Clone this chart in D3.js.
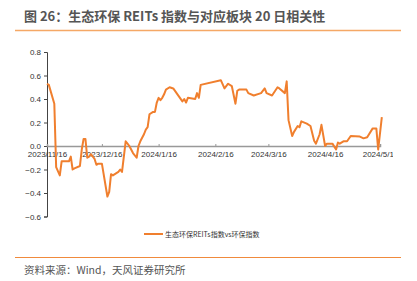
<!DOCTYPE html>
<html>
<head>
<meta charset="utf-8">
<script src="https://cdn.jsdelivr.net/npm/d3@7"></script>
<style>
  body { margin: 0; background: #fff; }
  svg { display: block; font-family: "Noto Sans CJK SC", "Liberation Sans", sans-serif; }
</style>
</head>
<body>
<svg id="chart" width="417" height="281"></svg>
<script>
// correlation series
var dates = ["2023-11-16","2023-11-17","2023-11-20","2023-11-21","2023-11-23","2023-11-24","2023-11-28","2023-11-29","2023-11-30",
  "2023-12-01","2023-12-04","2023-12-05","2023-12-06","2023-12-07","2023-12-08","2023-12-09","2023-12-10","2023-12-12","2023-12-13",
  "2023-12-14","2023-12-16","2023-12-19","2023-12-20","2023-12-21","2023-12-22","2023-12-25","2023-12-26","2023-12-27","2023-12-29",
  "2023-12-30","2023-12-31","2024-01-01","2024-01-02","2024-01-04","2024-01-05","2024-01-06","2024-01-08","2024-01-09","2024-01-10",
  "2024-01-11","2024-01-13","2024-01-14","2024-01-15","2024-01-16","2024-01-17","2024-01-18","2024-01-19","2024-01-20","2024-01-22",
  "2024-01-24","2024-01-29","2024-01-30","2024-01-31","2024-02-01","2024-02-05","2024-02-06","2024-02-07","2024-02-08","2024-02-19",
  "2024-02-21","2024-02-23","2024-02-25","2024-02-27","2024-02-28","2024-02-29","2024-03-04","2024-03-05","2024-03-08","2024-03-12",
  "2024-03-14","2024-03-15","2024-03-18","2024-03-21","2024-03-22","2024-03-25","2024-03-26","2024-03-27","2024-03-29","2024-03-30",
  "2024-04-01","2024-04-02","2024-04-03","2024-04-06","2024-04-08","2024-04-10","2024-04-11","2024-04-13","2024-04-14","2024-04-16",
  "2024-04-17","2024-04-20","2024-04-22","2024-04-23","2024-04-24","2024-04-26","2024-04-28","2024-04-30","2024-05-05","2024-05-07",
  "2024-05-09","2024-05-12","2024-05-14","2024-05-15","2024-05-17"];
var values = [0.53,0.52,0.36,-0.18,-0.25,-0.13,-0.13,-0.09,-0.2,
  -0.19,-0.17,-0.03,0.06,0.06,-0.1,-0.09,-0.07,-0.11,-0.16,
  -0.15,-0.15,-0.43,-0.39,-0.24,-0.25,-0.22,-0.2,-0.22,0.04,
  0.02,0.0,-0.03,-0.06,-0.1,0.0,0.04,0.1,0.14,0.16,
  0.27,0.29,0.29,0.37,0.41,0.39,0.41,0.44,0.48,0.5,
  0.49,0.38,0.4,0.37,0.41,0.4,0.45,0.41,0.52,0.56,
  0.49,0.53,0.51,0.36,0.47,0.48,0.48,0.45,0.43,0.45,
  0.49,0.45,0.43,0.5,0.49,0.45,0.55,0.22,0.085,0.12,
  0.17,0.16,0.21,0.19,0.17,0.045,0.02,0.1,0.18,0.0,
  0.02,0.02,-0.03,0.03,0.02,0.04,0.04,0.085,0.08,0.065,
  0.075,0.15,0.15,-0.03,0.245];
var yTicks = [0.8,0.6,0.4,0.2,0.0,-0.2,-0.4,-0.6];
var xTicks = ["2023-11-16","2023-12-16","2024-01-16","2024-02-16","2024-03-16","2024-04-16","2024-05-16"];
var seriesName = "生态环保REITs指数vs环保指数";
var title = "图 26：生态环保 REITs 指数与对应板块 20 日相关性";
var source = "资料来源：Wind，天风证券研究所";

var parse = d3.timeParse("%Y-%m-%d");
var data = dates.map(function(d, i){ return {date: parse(d), value: values[i]}; });

var svg = d3.select("#chart");

svg.append("text").attr("x", 24).attr("y", 21)
  .attr("font-size", 13).attr("font-weight", "bold").attr("fill", "#555")
  .text(title);
svg.append("line").attr("x1", 15).attr("x2", 401).attr("y1", 30.5).attr("y2", 30.5)
  .style("stroke", "#f5a866").style("stroke-width", 1.5);

svg.append("clipPath").attr("id", "clip").append("rect")
  .attr("x", 0).attr("y", 35).attr("width", 393).attr("height", 190);
var g = svg.append("g").attr("clip-path", "url(#clip)");

var x = d3.scaleTime().domain([parse("2023-11-16"), parse("2024-05-16")]).range([47, 380]);
var y = d3.scaleLinear().domain([-0.6, 0.8]).range([216.5, 52]);

// y axis
var yAxis = d3.axisLeft(y).tickValues(yTicks).tickSize(3).tickFormat(d3.format(".1f"));
var ya = g.append("g").attr("transform", "translate(47,0)").call(yAxis);
ya.select(".domain").attr("stroke", "#444");
ya.selectAll(".tick line").attr("stroke", "#444");
ya.selectAll("text").attr("font-size", 8).attr("fill", "#333")
  .attr("font-family", "Liberation Sans, sans-serif").attr("x", -6);

// x axis on the zero line
var xAxis = d3.axisBottom(x).tickValues(xTicks.map(parse)).tickSize(-2)
  .tickFormat(d3.timeFormat("%Y/%-m/%-d"));
var xa = g.append("g").attr("transform", "translate(0," + y(0) + ")").call(xAxis);
xa.select(".domain").attr("stroke", "#999").attr("stroke-width", 1.5);
xa.selectAll(".tick line").attr("stroke", "#999");
xa.selectAll("text").attr("font-size", 8).attr("fill", "#333")
  .attr("font-family", "Liberation Sans, sans-serif").attr("y", 5);

var line = d3.line().x(function(d){ return x(d.date); }).y(function(d){ return y(d.value); });
g.append("path").datum(data).attr("d", line)
  .style("fill", "none").style("stroke", "#f07f2e").style("stroke-width", 2)
  .style("stroke-linejoin", "round");

// legend
var lg = svg.append("g").attr("transform", "translate(144,234)");
lg.append("line").attr("x1", 0).attr("x2", 19).attr("y1", 0).attr("y2", 0)
  .style("stroke", "#f07f2e").style("stroke-width", 2);
lg.append("text").attr("x", 21).attr("y", 2.5).attr("font-size", 7).attr("fill", "#333")
  .text(seriesName);

svg.append("line").attr("x1", 15).attr("x2", 401).attr("y1", 257.5).attr("y2", 257.5)
  .style("stroke", "#f08a3c").style("stroke-width", 1.2);
svg.append("text").attr("x", 24).attr("y", 274).attr("font-size", 10.5).attr("fill", "#555")
  .text(source);
</script>
</body>
</html>
